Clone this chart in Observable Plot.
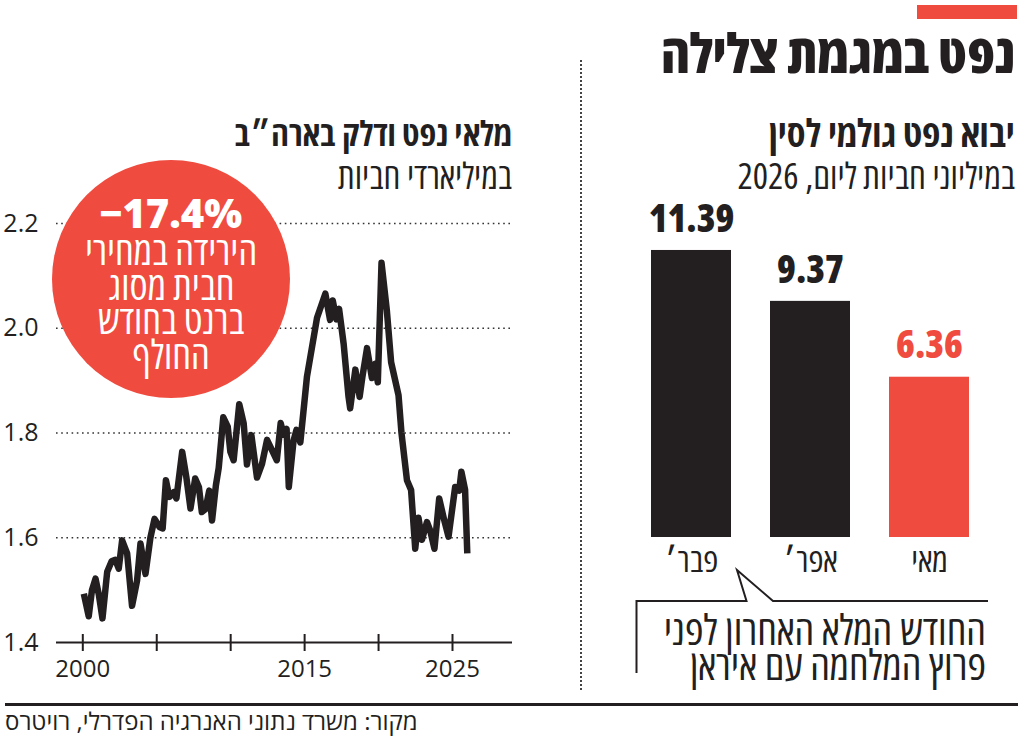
<!DOCTYPE html>
<html><head><meta charset="utf-8">
<script src="https://cdn.jsdelivr.net/npm/d3@7"></script>
<script src="https://cdn.jsdelivr.net/npm/@observablehq/plot@0.6"></script>
<style>
body{margin:0;background:#fff;}
#root{position:relative;width:1024px;height:738px;overflow:hidden;background:#fff;font-family:"Open Sans",sans-serif;color:#231f20;}
.abs{position:absolute;white-space:nowrap;}
.he{direction:rtl;font-stretch:75%;}
</style></head><body><div id="root"></div>
<script>
// ---- data: US oil & fuel stocks (billion barrels) ----
const stockYears = [2000.07,2000.40,2000.62,2000.86,2001.08,2001.33,2001.65,2001.95,2002.20,2002.43,2002.66,2003.00,2003.33,2003.67,2003.90,2004.24,2004.57,2004.85,2005.20,2005.40,2005.62,2005.85,2006.15,2006.33,2006.72,2007.00,2007.28,2007.60,2007.85,2008.05,2008.30,2008.55,2008.74,2009.00,2009.19,2009.50,2009.80,2009.98,2010.20,2010.58,2010.88,2011.10,2011.40,2011.78,2012.12,2012.46,2012.80,2013.12,2013.38,2013.58,2013.78,2013.93,2014.25,2014.45,2014.71,2015.16,2015.84,2016.40,2016.72,2016.90,2017.15,2017.33,2017.64,2017.97,2018.08,2018.43,2018.72,2018.90,2019.22,2019.55,2019.77,2019.95,2020.20,2020.56,2020.85,2021.35,2021.55,2021.92,2022.20,2022.48,2022.70,2022.93,2023.27,2023.49,2023.78,2024.10,2024.42,2024.73,2025.18,2025.45,2025.60,2025.85,2026.00];
const stockValues = [1.493,1.450,1.500,1.522,1.492,1.446,1.535,1.555,1.558,1.541,1.595,1.570,1.470,1.518,1.589,1.531,1.600,1.636,1.620,1.618,1.710,1.678,1.687,1.675,1.764,1.716,1.656,1.713,1.697,1.649,1.655,1.690,1.633,1.700,1.733,1.830,1.812,1.764,1.748,1.855,1.818,1.740,1.796,1.715,1.741,1.787,1.767,1.748,1.819,1.797,1.808,1.697,1.785,1.806,1.782,1.908,2.020,2.066,2.016,2.053,2.017,2.037,1.970,1.869,1.847,1.921,1.869,1.906,1.962,1.905,1.932,1.897,2.125,2.034,1.935,1.872,1.800,1.710,1.691,1.579,1.638,1.596,1.630,1.614,1.579,1.675,1.636,1.602,1.697,1.690,1.726,1.692,1.570];
const stockYTicks = [1.4, 1.6, 1.8, 2.0, 2.2];
const stockXTicks = [2000, 2005, 2010, 2015, 2020, 2025];
const stockXLabels = [2000, 2015, 2025];

// ---- data: China crude imports 2026 (million barrels/day) ----
const months = ["פבר׳", "אפר׳", "מאי"];
const imports = [11.39, 9.37, 6.36];
const highlight = [false, false, true];

// ---- texts ----
const title = "נפט במגמת צלילה";
const leftTitle = "מלאי נפט ודלק בארה״ב";
const leftSub = "במיליארדי חביות";
const rightTitle = "יבוא נפט גולמי לסין";
const rightSub = "במיליוני חביות ליום, 2026";
const badgeValue = "−17.4%";
const badgeLines = ["הירידה במחירי", "חבית מסוג", "ברנט בחודש", "החולף"];
const noteLines = ["החודש המלא האחרון לפני", "פרוץ המלחמה עם איראן"];
const source = "מקור: משרד נתוני האנרגיה הפדרלי, רויטרס";

const RED = "#ef4b3f", INK = "#231f20";
const root = document.getElementById("root");
function el(css, text) {
  const e = document.createElement("div");
  e.style.cssText = css;
  if (text != null) e.textContent = text;
  root.appendChild(e);
  return e;
}
function txt(text, css) { const d = el(css, text); d.className = "abs he"; return d; }

// header
el(`position:absolute;left:917px;top:5px;width:100px;height:14px;background:${RED}`);
txt(title, "right:9px;top:20px;font-size:54px;line-height:64px;font-weight:800;");
// separator
el(`position:absolute;left:580px;top:60px;height:630px;width:0;border-left:2px dotted #444`);

txt(leftTitle, "right:512px;top:113px;font-size:34.5px;line-height:40px;font-weight:700;");
txt(leftSub, "right:512px;top:157px;font-size:36px;line-height:38px;font-weight:400;");
txt(rightTitle, "right:9px;top:112px;font-size:38px;line-height:40px;font-weight:700;");
txt(rightSub, "right:9px;top:157px;font-size:36px;line-height:38px;font-weight:400;");

// ---- left chart ----
const stock = stockYears.map((y, i) => ({year: y, value: stockValues[i]}));
const left = Plot.plot({
  width: 530, height: 490,
  marginLeft: 56, marginRight: 18, marginTop: 23, marginBottom: 48,
  style: {fontFamily: '"Open Sans", sans-serif', fontSize: "24px", color: INK, background: "transparent", overflow: "visible"},
  x: {domain: [2000, 2025], range: [82.3, 452], axis: null},
  y: {domain: [1.4, 2.2], range: [442, 23], axis: null},
  marks: [
    Plot.ruleY(stockYTicks.filter(d => d > 1.4), {stroke: "#333", strokeWidth: 1.6, strokeDasharray: "1.6,3.6"}),
    Plot.ruleY([1.4], {stroke: INK, strokeWidth: 2}),
    Plot.axisX({ticks: stockXTicks, tickSize: 17, dy: -8, tickFormat: () => "", label: null, stroke: INK, strokeWidth: 2}),
    Plot.axisX({ticks: stockXLabels, tickSize: 0, tickPadding: 17, tickFormat: d => String(d), label: null, fontSize: 24, fill: INK}),
    Plot.axisY({ticks: stockYTicks, tickSize: 0, tickPadding: 18, tickFormat: d => d.toFixed(1), label: null, fontSize: 25, fill: INK}),
    Plot.line(stock, {x: "year", y: "value", stroke: INK, strokeWidth: 6.5, strokeLinejoin: "round", strokeLinecap: "butt"})
  ]
});
left.style.position = "absolute"; left.style.left = "0px"; left.style.top = "200px";
root.appendChild(left);

// badge
const badge = el(`position:absolute;left:52px;top:160px;width:238px;height:238px;border-radius:50%;background:${RED};color:#fff;text-align:center;`);
const bv = document.createElement("div");
bv.style.cssText = "position:absolute;left:0;width:238px;top:33px;font-size:40px;line-height:40px;font-weight:800;direction:ltr;";
bv.textContent = badgeValue; badge.appendChild(bv);
badgeLines.forEach((t, i) => {
  const d = document.createElement("div");
  d.style.cssText = `position:absolute;left:-20px;width:278px;top:${73 + i * 34.5}px;font-size:40px;line-height:34.5px;font-weight:500;direction:rtl;font-stretch:75%;white-space:nowrap;`;
  d.textContent = t; badge.appendChild(d);
});

// ---- right chart ----
const bars = months.map((m, i) => ({month: m, value: imports[i], hi: highlight[i]}));
const right = Plot.plot({
  width: 420, height: 390,
  marginLeft: 0, marginRight: 0, marginTop: 20, marginBottom: 53,
  style: {fontFamily: '"Open Sans", sans-serif', fontSize: "28px", fontStretch: "75%", color: INK, background: "transparent", overflow: "visible"},
  x: {domain: months, range: [50, 369], paddingInner: 0.33, paddingOuter: 0, axis: null},
  y: {domain: [0, 12], range: [337, 34.6], axis: null},
  marks: [
    Plot.barY(bars, {x: "month", y: "value", fill: d => d.hi ? RED : INK}),
    Plot.text(bars, {x: "month", y: "value", text: d => d.value.toFixed(2), dy: -31, fontSize: 38, fontWeight: 800, fill: d => d.hi ? RED : INK}),
    Plot.axisX({tickSize: 0, tickPadding: 10, label: null, fontSize: 34, fill: INK})
  ]
});
right.style.position = "absolute"; right.style.left = "600px"; right.style.top = "200px";
root.appendChild(right);

// callout
const ns = "http://www.w3.org/2000/svg";
const ov = document.createElementNS(ns, "svg");
ov.setAttribute("width", 1024); ov.setAttribute("height", 738);
ov.style.cssText = "position:absolute;left:0;top:0;pointer-events:none";
const pl = document.createElementNS(ns, "polyline");
pl.setAttribute("points", "636.5,673 636.5,601 746.5,601 737,570 773,601 988,601");
pl.setAttribute("fill", "none"); pl.setAttribute("stroke", INK); pl.setAttribute("stroke-width", 2);
ov.appendChild(pl); root.appendChild(ov);
noteLines.forEach((t, i) => txt(t, `right:38px;top:${611 + i * 35}px;font-size:42px;line-height:35px;font-weight:400;font-stretch:75%;`));

// footer
el(`position:absolute;left:5px;top:703px;width:1013px;height:3px;background:${INK}`);
txt(source, "left:5px;top:706px;font-size:24px;line-height:30px;font-weight:400;font-stretch:100%;");
</script></body></html>
